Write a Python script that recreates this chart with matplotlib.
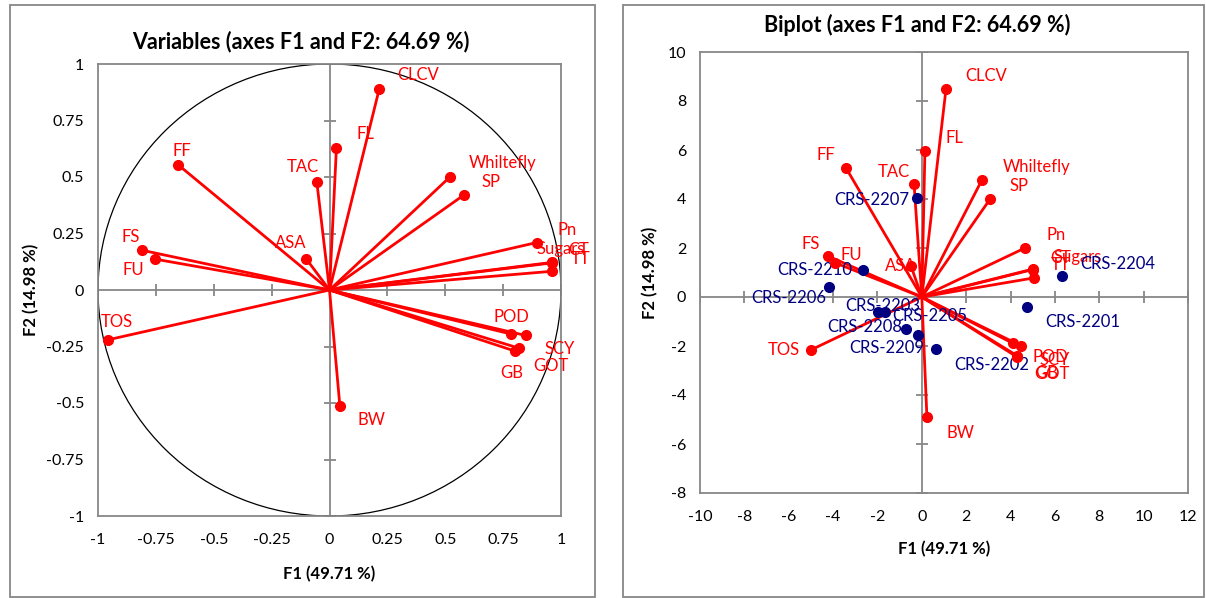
import matplotlib.pyplot as plt
import numpy as np
from matplotlib.patches import Rectangle, Circle

plt.rcParams['font.family'] = ['Lato', 'DejaVu Sans']
plt.rcParams['axes.unicode_minus'] = False

# variables: correlation circle coordinates (F1, F2)
var_names = ['CLCV', 'FL', 'TAC', 'FF', 'Whiltefly', 'SP', 'ASA', 'FS', 'FU',
             'Pn', 'Sugars', 'CT', 'TT', 'POD', 'SCY', 'GB', 'GOT', 'TOS', 'BW']
var_f1 = [0.215, 0.03, -0.055, -0.655, 0.52, 0.58, -0.10, -0.81, -0.755,
          0.895, 0.96, 0.962, 0.963, 0.785, 0.847, 0.80, 0.817, -0.955, 0.045]
var_f2 = [0.89, 0.63, 0.48, 0.555, 0.50, 0.42, 0.137, 0.176, 0.137,
          0.21, 0.122, 0.12, 0.083, -0.195, -0.201, -0.27, -0.257, -0.22, -0.515]

# biplot coordinates of the variables
bi_f1 = [1.09, 0.14, -0.35, -3.42, 2.71, 3.08, -0.49, -4.23, -3.9,
         4.65, 5.01, 5.0, 5.06, 4.11, 4.47, 4.28, 4.3, -5.0, 0.23]
bi_f2 = [8.49, 5.96, 4.61, 5.27, 4.78, 4.0, 1.27, 1.67, 1.39,
         2.0, 1.14, 1.12, 0.78, -1.89, -1.99, -2.44, -2.4, -2.16, -4.9]

# observations
obs_names = ['CRS-2201', 'CRS-2202', 'CRS-2203', 'CRS-2204', 'CRS-2205',
             'CRS-2206', 'CRS-2207', 'CRS-2208', 'CRS-2209', 'CRS-2210']
obs_f1 = [4.74, 0.63, -1.96, 6.32, -1.67, -4.19, -0.22, -0.71, -0.16, -2.65]
obs_f2 = [-0.41, -2.13, -0.60, 0.86, -0.62, 0.41, 4.04, -1.32, -1.56, 1.10]

W, H = 1206, 598
RED = '#ff0000'
NAVY = '#000080'
GRID = '#878787'

# label offsets in pixels (right, up)
off_var = {'CLCV': (39, 14), 'FL': (29, 14), 'TAC': (-14, 15), 'FF': (4, 14),
           'Whiltefly': (53, 14), 'SP': (27, 13), 'ASA': (-16, 16), 'FS': (-11, 13),
           'FU': (-21, -11), 'Pn': (30, 13), 'Sugars': (9, 13), 'CT': (26, 13),
           'TT': (28, 12), 'POD': (0, 17), 'SCY': (34, -14), 'GB': (-3, -22),
           'GOT': (32, -18), 'TOS': (8, 18), 'BW': (32, -14)}
off_bi = {'CLCV': (40, 13), 'FL': (30, 13), 'TAC': (-20, 12), 'FF': (-20, 13),
          'Whiltefly': (55, 13), 'SP': (29, 13), 'ASA': (-10, 0), 'FS': (-17, 12),
          'FU': (16, 8), 'Pn': (31, 13), 'Sugars': (45, 12), 'CT': (28, 12),
          'TT': (27, 13), 'POD': (37, -14), 'SCY': (34, -14), 'GB': (30, -16),
          'GOT': (35, -18), 'TOS': (-27, 0), 'BW': (34, -16)}
off_obs = {'CRS-2201': (56, -15), 'CRS-2202': (56, -16), 'CRS-2203': (4, 6),
           'CRS-2204': (56, 12), 'CRS-2205': (45, -4), 'CRS-2206': (-40, -11),
           'CRS-2207': (-45, -2), 'CRS-2208': (-41, 2), 'CRS-2209': (-32, -13),
           'CRS-2210': (-48, 0)}

fig = plt.figure(figsize=(W / 100, H / 100), dpi=100)

def fx(px):
    return px / W

def fy(py):
    return 1 - py / H

# outer chart boxes
for x0, x1 in [(10, 595), (623, 1204)]:
    fig.patches.append(Rectangle((fx(x0), fy(597)), fx(x1) - fx(x0), fy(5) - fy(597),
                                 transform=fig.transFigure, fill=False,
                                 edgecolor=GRID, linewidth=1.3))

def style_axes(ax):
    for s in ax.spines.values():
        s.set_color(GRID)
        s.set_linewidth(1.3)
    ax.tick_params(length=0, labelsize=11.5, colors='black')
    ax.tick_params(axis='x', pad=12)
    ax.tick_params(axis='y', pad=10)

def label(ax, name, x, y, off, color):
    ax.annotate(name, (x, y), xytext=(off[0] * 0.72, off[1] * 0.72),
                textcoords='offset points', ha='center', va='center',
                color=color, fontsize=12)

# ---------- left: correlation circle ----------
ax1 = fig.add_axes([fx(98), fy(516), fx(561) - fx(98), fy(64) - fy(516)])
style_axes(ax1)
ax1.set_xlim(-1, 1)
ax1.set_ylim(-1, 1)
ticks1 = np.arange(-1, 1.01, 0.25)
ax1.set_xticks(ticks1)
ax1.set_yticks(ticks1)
ax1.set_xticklabels(['%g' % t for t in ticks1])
ax1.set_yticklabels(['%g' % t for t in ticks1])
ax1.axhline(0, color=GRID, lw=1.3, zorder=1)
ax1.axvline(0, color=GRID, lw=1.3, zorder=1)
ax1.plot(ticks1, np.zeros_like(ticks1), ls='none', marker='|', ms=8, mew=1.3, color=GRID, zorder=1)
ax1.plot(np.zeros_like(ticks1), ticks1, ls='none', marker='_', ms=8, mew=1.3, color=GRID, zorder=1)
ax1.add_patch(Circle((0, 0), 1, fill=False, edgecolor='black', lw=0.9, zorder=2))
for n, x, y in zip(var_names, var_f1, var_f2):
    ax1.plot([0, x], [0, y], color=RED, lw=2, zorder=3)
    ax1.plot(x, y, 'o', color=RED, ms=7, zorder=4)
    label(ax1, n, x, y, off_var[n], RED)

# ---------- right: biplot ----------
ax2 = fig.add_axes([fx(700), fy(493), fx(1188) - fx(700), fy(52) - fy(493)])
style_axes(ax2)
ax2.set_xlim(-10, 12)
ax2.set_ylim(-8, 10)
xt = np.arange(-10, 13, 2)
yt = np.arange(-8, 11, 2)
ax2.set_xticks(xt)
ax2.set_yticks(yt)
ax2.axhline(0, color=GRID, lw=1.3, zorder=1)
ax2.axvline(0, color=GRID, lw=1.3, zorder=1)
ax2.plot(xt, np.zeros_like(xt), ls='none', marker='|', ms=8, mew=1.3, color=GRID, zorder=1)
ax2.plot(np.zeros_like(yt), yt, ls='none', marker='_', ms=8, mew=1.3, color=GRID, zorder=1)
for n, x, y in zip(var_names, bi_f1, bi_f2):
    ax2.plot([0, x], [0, y], color=RED, lw=2, zorder=3)
    ax2.plot(x, y, 'o', color=RED, ms=7, zorder=4)
    label(ax2, n, x, y, off_bi[n], RED)
ax2.plot(obs_f1, obs_f2, 'o', color=NAVY, ms=7, ls='none', zorder=5)
for n, x, y in zip(obs_names, obs_f1, obs_f2):
    label(ax2, n, x, y, off_obs[n], NAVY)

# titles and axis titles
fig.text(fx(301), fy(42), 'Variables (axes F1 and F2: 64.69 %)', ha='center', va='center',
         fontsize=15.5, fontweight='bold')
fig.text(fx(917), fy(25), 'Biplot (axes F1 and F2: 64.69 %)', ha='center', va='center',
         fontsize=15.5, fontweight='bold')
fig.text(fx(329), fy(574), 'F1 (49.71 %)', ha='center', va='center', fontsize=12, fontweight='bold')
fig.text(fx(31), fy(290), 'F2 (14.98 %)', ha='center', va='center', fontsize=12,
         fontweight='bold', rotation=90)
fig.text(fx(944), fy(549), 'F1 (49.71 %)', ha='center', va='center', fontsize=12, fontweight='bold')
fig.text(fx(650), fy(273), 'F2 (14.98 %)', ha='center', va='center', fontsize=12,
         fontweight='bold', rotation=90)

fig.savefig('out.png', dpi=100)
